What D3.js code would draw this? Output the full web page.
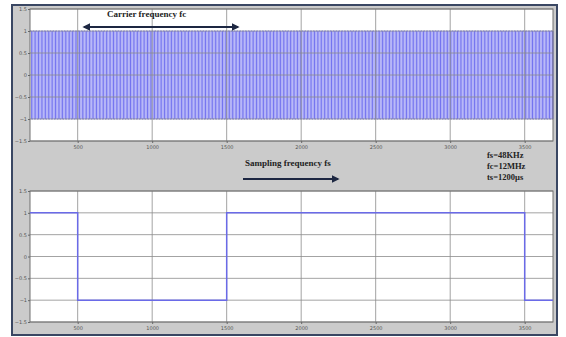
<!DOCTYPE html>
<html>
<head>
<meta charset="utf-8">
<script src="https://cdn.jsdelivr.net/npm/d3@7"></script>
<style>
  body { margin: 0; background: #fff; }
  svg { display: block; }
</style>
</head>
<body>
<div id="chart"></div>
<script>
// x axis (time samples) and tick labels
const xDomain = [180, 3690];
const xTicks = [500, 1000, 1500, 2000, 2500, 3000, 3500];
const yTicks = [-1.5, -1, -0.5, 0, 0.5, 1, 1.5];

// carrier: square wave switching between these levels every half period
const carrierLevels = [1, -1];
const carrierPeriod = 19;

// sampling signal: level held from each edge to the next
const sampleEdges = [180, 500, 1500, 3500, 3690];
const sampleLevels = [1, -1, 1, -1];

const paramLines = ['fs=48KHz', 'fc=12MHz', 'ts=1200\u00b5s'];

const width = 566, height = 337;
const frame = { left: 12, right: 557, top: 5, bottom: 335 };
const plotLeft = 30, plotRight = 553;
const topBox = { top: 9, bottom: 141 };
const botBox = { top: 191, bottom: 322 };

const svg = d3.select('#chart').append('svg')
  .attr('width', width)
  .attr('height', height);

const defs = svg.append('defs');
function marker(id, orient) {
  defs.append('marker')
    .attr('id', id)
    .attr('viewBox', '0 0 10 10')
    .attr('refX', 8).attr('refY', 5)
    .attr('markerWidth', 4).attr('markerHeight', 4)
    .attr('orient', orient)
    .append('path')
      .attr('d', 'M0,0 L10,5 L0,10 z')
      .attr('fill', '#1d2742');
}
marker('head', 'auto');
marker('tail', 'auto-start-reverse');

// figure background
svg.append('rect')
  .attr('x', frame.left).attr('y', frame.top)
  .attr('width', frame.right - frame.left)
  .attr('height', frame.bottom - frame.top)
  .attr('fill', '#cbcbcb');

const x = d3.scaleLinear().domain(xDomain).range([plotLeft, plotRight]);

function drawPanel(box) {
  const y = d3.scaleLinear().domain([-1.5, 1.5]).range([box.bottom, box.top]);
  const g = svg.append('g');

  g.append('rect')
    .attr('x', plotLeft).attr('y', box.top)
    .attr('width', plotRight - plotLeft)
    .attr('height', box.bottom - box.top)
    .attr('fill', '#fff');

  return { g, y };
}

function drawGrid(g, y, box) {
  g.append('g').selectAll('line')
    .data(xTicks)
    .join('line')
      .attr('x1', d => x(d)).attr('x2', d => x(d))
      .attr('y1', box.top).attr('y2', box.bottom)
      .attr('stroke', '#8c8c8c')
      .attr('stroke-width', 0.8);

  g.append('g').selectAll('line')
    .data(yTicks)
    .join('line')
      .attr('x1', plotLeft).attr('x2', plotRight)
      .attr('y1', d => y(d)).attr('y2', d => y(d))
      .attr('stroke', '#8c8c8c')
      .attr('stroke-width', 0.8);

  g.append('rect')
    .attr('x', plotLeft).attr('y', box.top)
    .attr('width', plotRight - plotLeft)
    .attr('height', box.bottom - box.top)
    .attr('fill', 'none')
    .attr('stroke', '#707070')
    .attr('stroke-width', 1);

  const yAxis = d3.axisLeft(y).tickValues(yTicks).tickSize(2).tickPadding(1)
    .tickFormat(d3.format('~g'));
  const ya = g.append('g')
    .attr('transform', `translate(${plotLeft},0)`)
    .call(yAxis);
  ya.select('.domain').remove();

  const xAxis = d3.axisBottom(x).tickValues(xTicks).tickSize(2).tickPadding(2)
    .tickFormat(d3.format('d'));
  const xa = g.append('g')
    .attr('transform', `translate(0,${box.bottom})`)
    .call(xAxis);
  xa.select('.domain').remove();

  g.selectAll('.tick text')
    .attr('font-family', 'DejaVu Sans, sans-serif')
    .attr('font-size', 5)
    .attr('fill', '#555');
  g.selectAll('.tick line').attr('stroke', '#666');
}

// top panel: carrier
const topPanel = drawPanel(topBox);
const carrierPts = [];
d3.range(xDomain[0], xDomain[1], carrierPeriod / 2).forEach((t, i) => {
  carrierPts.push([t, carrierLevels[i % 2]]);
});
carrierPts.push([xDomain[1], carrierLevels[carrierPts.length % 2]]);

topPanel.g.append('path')
  .datum(carrierPts)
  .attr('fill', 'none')
  .attr('stroke', '#7474f0')
  .attr('stroke-width', 1)
  .attr('d', d3.line()
    .x(d => x(d[0]))
    .y(d => topPanel.y(d[1]))
    .curve(d3.curveStepAfter));
drawGrid(topPanel.g, topPanel.y, topBox);

// bottom panel: sampling signal
const botPanel = drawPanel(botBox);
drawGrid(botPanel.g, botPanel.y, botBox);
const samplePts = sampleLevels.map((v, i) => [sampleEdges[i], v]);
samplePts.push([sampleEdges[sampleEdges.length - 1], sampleLevels[sampleLevels.length - 1]]);
botPanel.g.append('path')
  .datum(samplePts)
  .attr('fill', 'none')
  .attr('stroke', '#6a6ae8')
  .attr('stroke-width', 1.5)
  .attr('d', d3.line()
    .x(d => x(d[0]))
    .y(d => botPanel.y(d[1]))
    .curve(d3.curveStepAfter));

// annotations
svg.append('text')
  .attr('x', 107).attr('y', 17)
  .attr('font-family', 'Liberation Serif, serif')
  .attr('font-weight', 'bold')
  .attr('font-size', 9)
  .attr('fill', '#222')
  .text('Carrier frequency fc');

svg.append('line')
  .attr('x1', 84).attr('x2', 238)
  .attr('y1', 27).attr('y2', 27)
  .attr('stroke', '#1d2742')
  .attr('stroke-width', 2)
  .attr('marker-start', 'url(#tail)')
  .attr('marker-end', 'url(#head)');

svg.append('text')
  .attr('x', 245).attr('y', 166)
  .attr('font-family', 'Liberation Serif, serif')
  .attr('font-weight', 'bold')
  .attr('font-size', 9)
  .attr('fill', '#222')
  .text('Sampling frequency fs');

svg.append('line')
  .attr('x1', 243).attr('x2', 338)
  .attr('y1', 179).attr('y2', 179)
  .attr('stroke', '#1d2742')
  .attr('stroke-width', 2)
  .attr('marker-end', 'url(#head)');

svg.append('g').selectAll('text')
  .data(paramLines)
  .join('text')
    .attr('x', 487)
    .attr('y', (d, i) => 158 + i * 11)
    .attr('font-family', 'Liberation Serif, serif')
    .attr('font-weight', 'bold')
    .attr('font-size', 8.5)
    .attr('fill', '#222')
    .text(d => d);

// frame border
svg.append('rect')
  .attr('x', frame.left).attr('y', frame.top)
  .attr('width', frame.right - frame.left)
  .attr('height', frame.bottom - frame.top)
  .attr('fill', 'none')
  .attr('stroke', '#3a4763')
  .attr('stroke-width', 2);
</script>
</body>
</html>
